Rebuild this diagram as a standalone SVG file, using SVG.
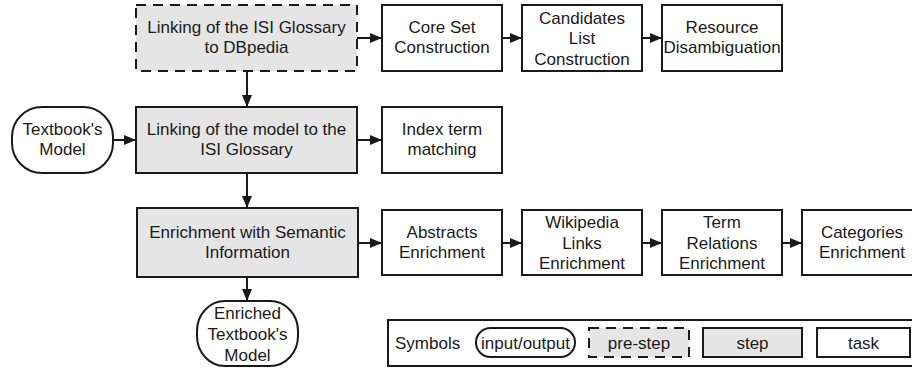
<svg xmlns="http://www.w3.org/2000/svg" width="912" height="368" viewBox="0 0 912 368">
<style>
text{font-family:"Liberation Sans",Arial,sans-serif;font-size:17px;fill:#1a1a1a;text-anchor:middle}
.task{fill:#fff;stroke:#1a1a1a;stroke-width:2}
.step{fill:#e5e5e5;stroke:#1a1a1a;stroke-width:2}
.pre{fill:#e5e5e5;stroke:#1a1a1a;stroke-width:2;stroke-dasharray:10 7}
.io{fill:#fff;stroke:#1a1a1a;stroke-width:2}
.c{fill:none;stroke:#1a1a1a;stroke-width:2;marker-end:url(#ah)}
</style>
<defs>
<marker id="ah" markerUnits="userSpaceOnUse" markerWidth="12" markerHeight="10" refX="11" refY="5" orient="auto">
<path d="M0,0 L12,5 L0,10 z" fill="#1a1a1a"/>
</marker>
</defs>
<g id="connectors">
<path class="c" d="M357,38 H381"/>
<path class="c" d="M502,38 H521"/>
<path class="c" d="M642,38 H661"/>
<path class="c" d="M247,71 V106"/>
<path class="c" d="M113,140 H135"/>
<path class="c" d="M357,140 H381"/>
<path class="c" d="M247,173 V207"/>
<path class="c" d="M358,243 H381"/>
<path class="c" d="M502,243 H521"/>
<path class="c" d="M642,243 H661"/>
<path class="c" d="M782,243 H801"/>
<path class="c" d="M247,277 V300"/>
</g>
<g id="prestep">
<rect class="pre" x="136" y="5" width="221" height="66"/>
<text x="246.5" y="33">Linking of the ISI Glossary</text>
<text x="246.5" y="53">to DBpedia</text>
</g>
<g id="coreset">
<rect class="task" x="382" y="5" width="120" height="66"/>
<text x="442" y="33">Core Set</text>
<text x="442" y="53">Construction</text>
</g>
<g id="candidates">
<rect class="task" x="522" y="5" width="120" height="66"/>
<text x="582" y="23.5">Candidates</text>
<text x="582" y="44">List</text>
<text x="582" y="64.5">Construction</text>
</g>
<g id="resource">
<rect class="task" x="662" y="5" width="120" height="66"/>
<text x="722" y="33">Resource</text>
<text x="722" y="53">Disambiguation</text>
</g>
<g id="textbook">
<rect class="io" x="12" y="107" width="101" height="66" rx="30" ry="30"/>
<text x="62.5" y="135">Textbook's</text>
<text x="62.5" y="155">Model</text>
</g>
<g id="linkmodel">
<rect class="step" x="136" y="107" width="221" height="66"/>
<text x="246.5" y="135">Linking of the model to the</text>
<text x="246.5" y="155">ISI Glossary</text>
</g>
<g id="indexterm">
<rect class="task" x="382" y="107" width="120" height="66"/>
<text x="442" y="135">Index term</text>
<text x="442" y="155">matching</text>
</g>
<g id="enrichment">
<rect class="step" x="137" y="208" width="221" height="69"/>
<text x="247.5" y="237.5">Enrichment with Semantic</text>
<text x="247.5" y="257.5">Information</text>
</g>
<g id="abstracts">
<rect class="task" x="382" y="210" width="120" height="65"/>
<text x="442" y="237.5">Abstracts</text>
<text x="442" y="257.5">Enrichment</text>
</g>
<g id="wikipedia">
<rect class="task" x="522" y="210" width="120" height="65"/>
<text x="582" y="228">Wikipedia</text>
<text x="582" y="248.5">Links</text>
<text x="582" y="269">Enrichment</text>
</g>
<g id="termrel">
<rect class="task" x="662" y="210" width="120" height="65"/>
<text x="722" y="228">Term</text>
<text x="722" y="248.5">Relations</text>
<text x="722" y="269">Enrichment</text>
</g>
<g id="categories">
<rect class="task" x="802" y="210" width="120" height="65"/>
<text x="862" y="237.5">Categories</text>
<text x="862" y="257.5">Enrichment</text>
</g>
<g id="enriched">
<rect class="io" x="197" y="301" width="101" height="65" rx="28" ry="30"/>
<text x="247.5" y="319">Enriched</text>
<text x="247.5" y="340">Textbook's</text>
<text x="247.5" y="360.5">Model</text>
</g>
<g id="legend">
<rect x="388" y="320" width="540" height="46" fill="#fff" stroke="#1a1a1a" stroke-width="2"/>
<text x="395" y="349" style="text-anchor:start">Symbols</text>
<rect class="io" x="476" y="328" width="99" height="29" rx="14.5" ry="14.5"/>
<text x="525.5" y="348.5">input/output</text>
<rect class="pre" x="589" y="328" width="100" height="29"/>
<text x="639" y="348.5">pre-step</text>
<rect class="step" x="703" y="328" width="99" height="29"/>
<text x="752.5" y="348.5">step</text>
<rect class="task" x="817" y="328" width="93" height="29"/>
<text x="863.5" y="348.5">task</text>
</g>
</svg>
